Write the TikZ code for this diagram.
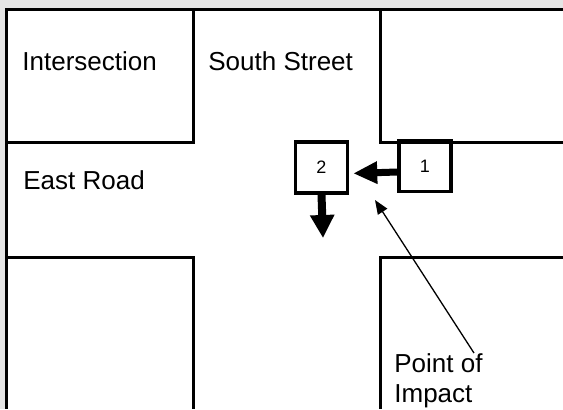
\documentclass[tikz,border=0pt]{standalone}
\usepackage{fontspec}
\setmainfont{Liberation Sans}
\usetikzlibrary{%
  arrows.meta
}
\tikzset{
  block/.style={line width=1.5pt},
  streetname/.style={anchor=base west,inner sep=0pt,font=\fontsize{13}{15}\selectfont},
  car/.style={draw,line width=1.75pt,minimum width=26pt,minimum height=25.5pt,
    inner sep=0pt,font=\fontsize{9}{10}\selectfont},
  move/.style={line width=3.5pt,-{Triangle[length=12pt,width=10.5pt]}},
  pointer/.style={line width=0.65pt,-{Triangle[length=7pt,width=5.5pt]}}
}

\begin{document}
\begin{tikzpicture}[x=0.5pt,y=-0.5pt]

  \useasboundingbox[fill=black!10] (0,0) rectangle (563,409);
  \fill[white] (6,9) rectangle (563,409);
  \draw[block] (563,9) -- (6,9) -- (6,409);

  \draw[block] (6,142) -| (193,9);
  \draw[block] (380,9) |- (563,142);
  \draw[block] (6,257) -| (193,409);
  \draw[block] (563,257) -| (380,409);

  \node[streetname] (inter) at (22,70) {Intersection};
  \node[streetname] (south) at (208,70) {South Street};
  \node[streetname] (east) at (23,189) {East Road};

  \node[car] (car2) at (321.5,167.5) {2};
  \node[car] (car1) at (425,166) {1};

  \draw[move,shorten >=2pt] ([yshift=-3pt]car1.west) -- ([yshift=-3pt]car2.east);
  \coordinate (turn) at (323,238);
  \draw[move,line width=4pt,-{Triangle[length=11.5pt,width=11.5pt]}] (car2.south) -- (turn);

  \node[anchor=north west,inner sep=0pt,align=left,
    font=\fontsize{13}{15}\selectfont] (impact) at (394,353) {Point of\\Impact};
  \coordinate (poi) at (375,200);
  \draw[pointer] ([xshift=-4.5pt]impact.north east) -- (poi);

\end{tikzpicture}
\end{document}
